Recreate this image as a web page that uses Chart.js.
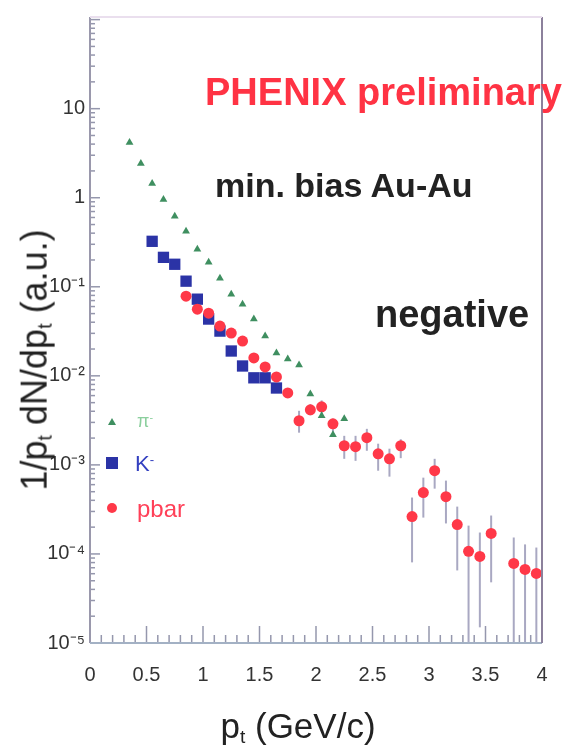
<!DOCTYPE html>
<html>
<head>
<meta charset="utf-8">
<script src="https://cdn.jsdelivr.net/npm/chart.js@4.4.1/dist/chart.umd.min.js"></script>
<style>
  body { margin: 0; background: #fff; }
  #wrap { position: relative; width: 572px; height: 745px; font-family: "Liberation Sans", Arial, sans-serif; }
  .note { position: absolute; white-space: nowrap; line-height: 1; }
  .note sub { font-size: 55%; vertical-align: -0.25em; }
  .note sup { font-size: 60%; vertical-align: 0.55em; }
</style>
</head>
<body>
<div id="wrap">
  <canvas id="spectra" width="572" height="745"></canvas>

  <div class="note" style="left:205px; top:73px; font-size:38px; font-weight:bold; color:#ff3344;">PHENIX preliminary</div>
  <div class="note" style="left:215px; top:168px; font-size:34px; font-weight:bold; color:#222;">min. bias Au-Au</div>
  <div class="note" style="left:375px; top:295px; font-size:38px; font-weight:bold; color:#222;">negative</div>

  <!-- legend labels -->
  <div class="note" style="left:137px; top:412px; font-size:18px; color:#8ccf9e;">&pi;<sup>-</sup></div>
  <div class="note" style="left:135px; top:453px; font-size:22px; color:#3340c0;">K<sup>-</sup></div>
  <div class="note" style="left:137px; top:497px; font-size:24px; color:#ff4058;">pbar</div>

  <!-- axis titles -->
  <div class="note" style="left:298px; top:708px; font-size:35px; color:#222; transform:translateX(-50%);">p<sub>t</sub> (GeV/c)</div>
  <div class="note" style="left:36px; top:360px; font-size:36px; color:#222; transform:translate(-50%,-50%) rotate(-90deg);">1/p<sub>t</sub> dN/dp<sub>t</sub> (a.u.)</div>
</div>

<script>
// pt bins (GeV/c) and yields
const piPt = [0.35, 0.45, 0.55, 0.65, 0.75, 0.85, 0.95, 1.05, 1.15, 1.25,
              1.35, 1.45, 1.55, 1.65, 1.75, 1.85, 1.95, 2.05, 2.15, 2.25];
const piYield = [4.16, 2.42, 1.44, 0.957, 0.618, 0.42, 0.264, 0.189, 0.125, 0.0826,
                 0.0638, 0.0434, 0.028, 0.018, 0.0155, 0.0132, 0.00627, 0.00356, 0.00218, 0.00329];

const kPt = [0.55, 0.65, 0.75, 0.85, 0.95, 1.05, 1.15, 1.25, 1.35, 1.45, 1.55, 1.65];
const kYield = [0.324, 0.214, 0.179, 0.1156, 0.0726, 0.0434, 0.0318, 0.019, 0.0129, 0.0095, 0.0095, 0.0073];

const pbarPt = [0.85, 0.95, 1.05, 1.15, 1.25, 1.35, 1.45, 1.55, 1.65, 1.75,
                1.85, 1.95, 2.05, 2.15, 2.25, 2.35, 2.45, 2.55, 2.65, 2.75,
                2.85, 2.95, 3.05, 3.15, 3.25, 3.35, 3.45, 3.55, 3.75, 3.85, 3.95];
const pbarYield = [0.0785, 0.0561, 0.0506, 0.0362, 0.0302, 0.0246, 0.0159, 0.0126, 0.00973, 0.00643,
                   0.00313, 0.00415, 0.00449, 0.00289, 0.00164, 0.0016, 0.00202, 0.00133, 0.00117, 0.00164,
                   0.000263, 0.000489, 0.000861, 0.00044, 0.000214, 0.000107, 0.0000938, 0.00017, 0.0000783, 0.000067, 0.0000605];
// error bar ends (null = hidden under the marker)
const pbarHi = [null, null, null, null, null, null, null, null, null, null,
                0.00405, 0.0048, 0.0053, 0.0033, 0.00212, 0.00212, 0.00254, 0.00173, 0.00152, 0.00194,
                0.00043, 0.000719, 0.00117, 0.000666, 0.00034, 0.000208, 0.000174, 0.00027, 0.000153, 0.000128, 0.000118];
const pbarLo = [null, null, null, null, null, null, null, null, null, null,
                0.0023, 0.0036, 0.0037, 0.0021, 0.00117, 0.00111, 0.00144, 0.00086, 0.000738, 0.00119,
                0.0000804, 0.000256, 0.000541, 0.00022, 0.0000653, 0.000001, 0.000015, 0.000048, 0.000001, 0.000001, 0.000001];

const xTickLabels = ["0", "0.5", "1", "1.5", "2", "2.5", "3", "3.5", "4"];
const yTickValues = [1e-5, 1e-4, 1e-3, 1e-2, 1e-1, 1, 10];
const yTickLabels = ["10\u207B\u2075", "10\u207B\u2074", "10\u207B\u00B3", "10\u207B\u00B2", "10\u207B\u00B9", "1", "10"];

function toPoints(xs, ys) {
    return xs.map((x, i) => ({ x: x, y: ys[i] }));
}

// vertical error bars for the pbar set
const errorBars = {
    id: "errorBars",
    beforeDatasetsDraw(chart) {
        const { ctx, chartArea: a, scales: { y } } = chart;
        const meta = chart.getDatasetMeta(1);
        ctx.save();
        ctx.beginPath();
        ctx.rect(a.left, a.top, a.right - a.left, a.bottom - a.top);
        ctx.clip();
        ctx.strokeStyle = "#a9a8c2";
        ctx.lineWidth = 2;
        meta.data.forEach((pt, i) => {
            if (pbarHi[i] == null) return;
            ctx.beginPath();
            ctx.moveTo(pt.x, y.getPixelForValue(pbarHi[i]));
            ctx.lineTo(pt.x, y.getPixelForValue(pbarLo[i]));
            ctx.stroke();
        });
        ctx.restore();
    }
};

// frame, inward ticks and the legend markers
const frameTicks = {
    id: "frameTicks",
    afterDraw(chart) {
        const { ctx, chartArea: a, scales: { x, y } } = chart;
        ctx.save();
        ctx.lineWidth = 1.5;
        ctx.strokeStyle = "#9597ad";

        function seg(x1, y1, x2, y2) {
            ctx.beginPath();
            ctx.moveTo(x1, y1);
            ctx.lineTo(x2, y2);
            ctx.stroke();
        }

        for (let i = 0; i <= 40; i++) {
            const px = x.getPixelForValue(i / 10);
            seg(px, a.bottom, px, a.bottom - (i % 5 === 0 ? 17 : 8));
        }
        for (let e = -5; e <= 2; e++) {
            for (let m = 1; m <= 9; m++) {
                const v = m * Math.pow(10, e);
                if (v < y.min || v > y.max) continue;
                const py = y.getPixelForValue(v);
                seg(a.left, py, a.left + (m === 1 ? 10 : 5), py);
            }
        }

        ctx.lineWidth = 2;
        ctx.strokeStyle = "#9a98ac";
        seg(a.left, a.top, a.left, a.bottom);
        ctx.strokeStyle = "#a3b1c4";
        seg(a.left, a.bottom, a.right, a.bottom);
        ctx.strokeStyle = "#8c819c";
        seg(a.right, a.top, a.right, a.bottom);
        ctx.strokeStyle = "#eadfee";
        seg(a.left, a.top, a.right, a.top);

        // legend markers
        ctx.fillStyle = "#3f8f60";
        ctx.beginPath();
        ctx.moveTo(112, 418);
        ctx.lineTo(116, 425);
        ctx.lineTo(108, 425);
        ctx.closePath();
        ctx.fill();
        ctx.fillStyle = "#2b33a6";
        ctx.fillRect(106, 457, 12, 12);
        ctx.fillStyle = "#ff3848";
        ctx.beginPath();
        ctx.arc(112, 508, 5, 0, Math.PI * 2);
        ctx.fill();
        ctx.restore();
    }
};

const ctx = document.getElementById("spectra").getContext("2d");
new Chart(ctx, {
    type: "scatter",
    data: {
        datasets: [
            {
                label: "\u03C0-",
                data: toPoints(piPt, piYield),
                pointStyle: "triangle",
                pointRadius: 4.5,
                backgroundColor: "#3f8f60",
                borderColor: "#3f8f60",
                borderWidth: 0
            },
            {
                label: "pbar",
                data: toPoints(pbarPt, pbarYield),
                pointStyle: "circle",
                pointRadius: 5.5,
                backgroundColor: "#ff3848",
                borderColor: "#ff3848",
                borderWidth: 0
            },
            {
                label: "K-",
                data: toPoints(kPt, kYield),
                pointStyle: "rect",
                pointRadius: 8,
                backgroundColor: "#2b33a6",
                borderColor: "#2b33a6",
                borderWidth: 0
            }
        ]
    },
    options: {
        responsive: false,
        animation: false,
        layout: { padding: { top: 15, right: 30, left: 0, bottom: 0 } },
        plugins: {
            legend: { display: false },
            tooltip: { enabled: false }
        },
        scales: {
            x: {
                type: "linear",
                min: 0,
                max: 4,
                afterFit: s => { s.height = 102; },
                grid: { display: false, drawTicks: false },
                border: { display: false },
                ticks: {
                    stepSize: 0.5,
                    autoSkip: false,
                    maxRotation: 0,
                    padding: 20,
                    color: "#333",
                    font: { family: "Liberation Sans", size: 20 },
                    callback: (v, i) => xTickLabels[i]
                }
            },
            y: {
                type: "logarithmic",
                min: 1e-5,
                max: 107,
                afterFit: s => { s.width = 90; },
                afterBuildTicks: s => { s.ticks = yTickValues.map(v => ({ value: v })); },
                grid: { display: false, drawTicks: false },
                border: { display: false },
                ticks: {
                    autoSkip: false,
                    padding: 5,
                    color: "#333",
                    font: { family: "Liberation Sans", size: 20 },
                    callback: v => yTickLabels[yTickValues.indexOf(v)]
                }
            }
        }
    },
    plugins: [errorBars, frameTicks]
});
</script>
</body>
</html>
